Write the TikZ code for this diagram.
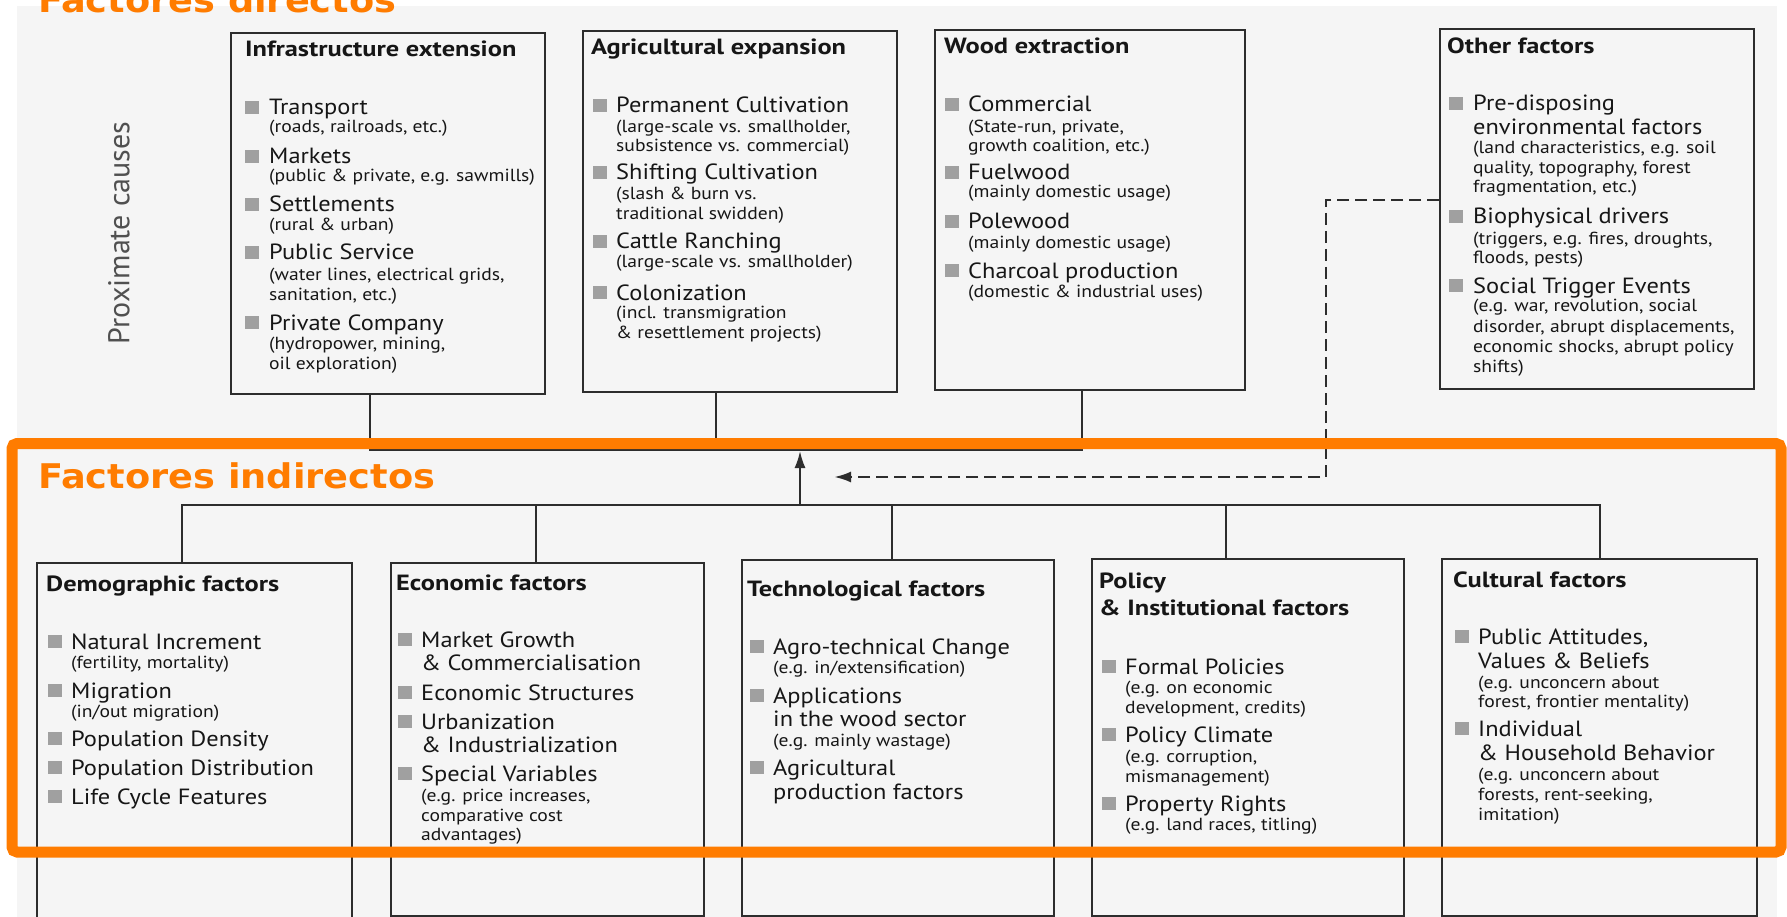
\documentclass[tikz,border=0pt]{standalone}
\usepackage{fontspec}
\usetikzlibrary{arrows.meta}
\newfontfamily\mfont[FakeStretch=1.11]{PT Sans}
\newfontfamily\hfont[FakeStretch=1.2]{PT Sans}
\newfontfamily\sfont[FakeStretch=1.12]{PT Sans}
\newfontfamily\pfont{PT Sans}
\newfontfamily\ofont[FakeStretch=1.08]{DejaVu Sans}
\definecolor{orng}{RGB}{255,124,0}
\definecolor{pagebg}{RGB}{245,245,245}
\definecolor{ink}{RGB}{22,22,22}
\definecolor{bulc}{RGB}{160,160,160}
\definecolor{boxc}{RGB}{45,45,45}
\definecolor{proxc}{RGB}{80,80,80}
\newcommand\mnf{\mfont\fontsize{22}{24}\selectfont}
\newcommand\hdf{\hfont\bfseries\fontsize{22}{24}\selectfont}
\newcommand\sbf{\sfont\fontsize{17.5}{20}\selectfont}
\newcommand\orf{\ofont\bfseries\fontsize{34}{36}\selectfont}
\newcommand\itm[5]{\node[bul] (#1b) at (#2,#4-1) {};\node[mn] (#1) at (#3,#4) {#5};}
\begin{document}
\begin{tikzpicture}[x=1pt,y=-1pt,
  box/.style={draw=boxc, line width=1.8pt, fill=none, inner sep=0pt, anchor=north west},
  hd/.style={font=\hdf, text=ink, anchor=base west, inner sep=0pt},
  mn/.style={font=\mnf, text=ink, anchor=base west, inner sep=0pt},
  sb/.style={font=\sbf, text=ink, anchor=base west, inner sep=0pt},
  bul/.style={fill=bulc, minimum width=14pt, minimum height=13pt, inner sep=0pt, anchor=south west},
  otitle/.style={font=\orf, text=orng, anchor=base west, inner sep=0pt},
  conn/.style={draw=boxc, line width=2pt},
  dashc/.style={draw=boxc, line width=2.6pt, dash pattern=on 12pt off 6pt},
  tip/.style={-{Latex[length=17pt,width=11pt]}}
]
\useasboundingbox (0,0) rectangle (1787,917);
\fill[pagebg] (17,6) rectangle (1777,917);

\node[otitle] (fdir) at (38,13) {Factores directos};
\node[font=\pfont\fontsize{30}{32}\selectfont, text=proxc, rotate=90, inner sep=0pt] (prox) at (119,233) {Proximate causes};

% ---------- direct boxes
\node[box, minimum width=314, minimum height=361] (infra) at (230,32) {};
\node[box, minimum width=314, minimum height=361] (agri) at (582,30) {};
\node[box, minimum width=310, minimum height=360] (wood) at (934,29) {};
\node[box, minimum width=314, minimum height=360] (other) at (1439,28) {};

% Infrastructure
\node[hd] (infraT) at (245,57) {Infrastructure extension};
\itm{i1}{245}{269}{115}{Transport}
\node[sb] (i1s) at (269,133) {(roads, railroads, etc.)};
\itm{i2}{245}{269}{164}{Markets}
\node[sb] (i2s) at (269,182) {(public \& private, e.g. sawmills)};
\itm{i3}{245}{269}{212}{Settlements}
\node[sb] (i3s) at (269,231) {(rural \& urban)};
\itm{i4}{245}{269}{260}{Public Service}
\node[sb] (i4s) at (269,280) {(water lines, electrical grids,};
\node[sb] (i4t) at (269,300) {sanitation, etc.)};
\itm{i5}{245}{269}{330}{Private Company}
\node[sb] (i5s) at (269,349) {(hydropower, mining,};
\node[sb] (i5t) at (269,369) {oil exploration)};

% Agricultural
\node[hd] (agriT) at (591,55) {Agricultural expansion};
\itm{a1}{593}{616}{113}{Permanent Cultivation}
\node[sb] (a1s) at (616,133) {(large-scale vs. smallholder,};
\node[sb] (a1t) at (616,152) {subsistence vs. commercial)};
\itm{a2}{593}{616}{180}{Shifting Cultivation}
\node[sb] (a2s) at (616,200) {(slash \& burn vs.};
\node[sb] (a2t) at (616,220) {traditional swidden)};
\itm{a3}{593}{616}{249}{Cattle Ranching}
\node[sb] (a3s) at (616,268) {(large-scale vs. smallholder)};
\itm{a4}{593}{616}{300}{Colonization}
\node[sb] (a4s) at (616,318) {(incl. transmigration};
\node[sb] (a4t) at (616,338) {\& resettlement projects)};

% Wood
\node[hd] (woodT) at (944,54) {Wood extraction};
\itm{w1}{945}{968}{112}{Commercial}
\node[sb] (w1s) at (968,133) {(State-run, private,};
\node[sb] (w1t) at (968,152) {growth coalition, etc.)};
\itm{w2}{945}{968}{180}{Fuelwood}
\node[sb] (w2s) at (968,198) {(mainly domestic usage)};
\itm{w3}{945}{968}{229}{Polewood}
\node[sb] (w3s) at (968,248) {(mainly domestic usage)};
\itm{w4}{945}{968}{278}{Charcoal production}
\node[sb] (w4s) at (968,297) {(domestic \& industrial uses)};

% Other
\node[hd] (otherT) at (1447,54) {Other factors};
\itm{o1}{1449}{1473}{111}{Pre-disposing}
\node[mn] (o1m) at (1473,135) {environmental factors};
\node[sb] (o1s) at (1473,154) {(land characteristics, e.g. soil};
\node[sb] (o1t) at (1473,174) {quality, topography, forest};
\node[sb] (o1u) at (1473,193) {fragmentation, etc.)};
\itm{o2}{1449}{1473}{224}{Biophysical drivers}
\node[sb] (o2s) at (1473,244) {(triggers, e.g. fires, droughts,};
\node[sb] (o2t) at (1473,263) {floods, pests)};
\itm{o3}{1449}{1473}{293}{Social Trigger Events}
\node[sb] (o3s) at (1473,311) {(e.g. war, revolution, social};
\node[sb] (o3t) at (1473,332) {disorder, abrupt displacements,};
\node[sb] (o3u) at (1473,352) {economic shocks, abrupt policy};
\node[sb] (o3v) at (1473,372) {shifts)};

% ---------- indirect boxes
\node[box, minimum width=315, minimum height=370] (demo) at (36,562) {};
\node[box, minimum width=313, minimum height=353] (econ) at (390,562) {};
\node[box, minimum width=312, minimum height=356] (tech) at (741,559) {};
\node[box, minimum width=312, minimum height=357] (poli) at (1091,558) {};
\node[box, minimum width=315, minimum height=357] (cult) at (1441,558) {};

% Demographic
\node[hd] (demoT) at (46,591) {Demographic factors};
\itm{d1}{48}{71}{649}{Natural Increment}
\node[sb] (d1s) at (71,668) {(fertility, mortality)};
\itm{d2}{48}{71}{698}{Migration}
\node[sb] (d2s) at (71,717) {(in/out migration)};
\itm{d3}{48}{71}{746}{Population Density}
\itm{d4}{48}{71}{775}{Population Distribution}
\itm{d5}{48}{71}{804}{Life Cycle Features}

% Economic
\node[hd] (econT) at (396,590) {Economic factors};
\itm{e1}{398}{421}{647}{Market Growth}
\node[mn] (e1m) at (421,670) {\& Commercialisation};
\itm{e2}{398}{421}{700}{Economic Structures}
\itm{e3}{398}{421}{729}{Urbanization}
\node[mn] (e3m) at (421,752) {\& Industrialization};
\itm{e4}{398}{421}{781}{Special Variables}
\node[sb] (e4s) at (421,801) {(e.g. price increases,};
\node[sb] (e4t) at (421,821) {comparative cost};
\node[sb] (e4u) at (421,840) {advantages)};

% Technological
\node[hd] (techT) at (747,596) {Technological factors};
\itm{t1}{750}{773}{654}{Agro-technical Change}
\node[sb] (t1s) at (773,673) {(e.g. in/extensification)};
\itm{t2}{750}{773}{703}{Applications}
\node[mn] (t2m) at (773,726) {in the wood sector};
\node[sb] (t2s) at (773,746) {(e.g. mainly wastage)};
\itm{t3}{750}{773}{775}{Agricultural}
\node[mn] (t3m) at (773,799) {production factors};

% Policy
\node[hd] (poliT) at (1099,588) {Policy};
\node[hd] (poliU) at (1099,615) {\& Institutional factors};
\itm{p1}{1102}{1125}{674}{Formal Policies}
\node[sb] (p1s) at (1125,693) {(e.g. on economic};
\node[sb] (p1t) at (1125,713) {development, credits)};
\itm{p2}{1102}{1125}{742}{Policy Climate}
\node[sb] (p2s) at (1125,762) {(e.g. corruption,};
\node[sb] (p2t) at (1125,782) {mismanagement)};
\itm{p3}{1102}{1125}{811}{Property Rights}
\node[sb] (p3s) at (1125,830) {(e.g. land races, titling)};

% Cultural
\node[hd] (cultT) at (1453,587) {Cultural factors};
\itm{c1}{1455}{1478}{644}{Public Attitudes,}
\node[mn] (c1m) at (1478,668) {Values \& Beliefs};
\node[sb] (c1s) at (1478,688) {(e.g. unconcern about};
\node[sb] (c1t) at (1478,707) {forest, frontier mentality)};
\itm{c2}{1455}{1478}{736}{Individual}
\node[mn] (c2m) at (1478,760) {\& Household Behavior};
\node[sb] (c2s) at (1478,780) {(e.g. unconcern about};
\node[sb] (c2t) at (1478,800) {forests, rent-seeking,};
\node[sb] (c2u) at (1478,820) {imitation)};

% ---------- connectors
\coordinate (jA) at (370,449.5);
\coordinate (jB) at (716,449.5);
\coordinate (jC) at (1082,449.5);
\draw[conn] (jA |- infra.south) -- (jA) -- (jC) -- (jC |- wood.south);
\draw[conn] (jB |- agri.south) -- (jB);

\coordinate (kA) at (182,505);
\coordinate (kB) at (536,505);
\coordinate (kM) at (800,505);
\coordinate (kC) at (892,505);
\coordinate (kD) at (1226,505);
\coordinate (kE) at (1600,505);
\draw[conn] (kA |- demo.north) -- (kA) -- (kE) -- (kE |- cult.north);
\draw[conn] (kB) -- (kB |- econ.north);
\draw[conn] (kC) -- (kC |- tech.north);
\draw[conn] (kD) -- (kD |- poli.north);
\coordinate (arrtip) at (800,451);
\draw[conn, tip] (kM) -- (arrtip);

\coordinate (dc1) at (1326,200);
\coordinate (dc2) at (1326,477);
\coordinate (dtip) at (834,477);
\draw[dashc, tip] (dc1 -| other.west) -- (dc1) -- (dc2) -- (dtip);

% ---------- indirect frame
\draw[orng, line width=11pt, rounded corners=5pt] (12,443.5) rectangle (1781,852);
\node[otitle] (find) at (38,488) {Factores indirectos};
\end{tikzpicture}
\end{document}
